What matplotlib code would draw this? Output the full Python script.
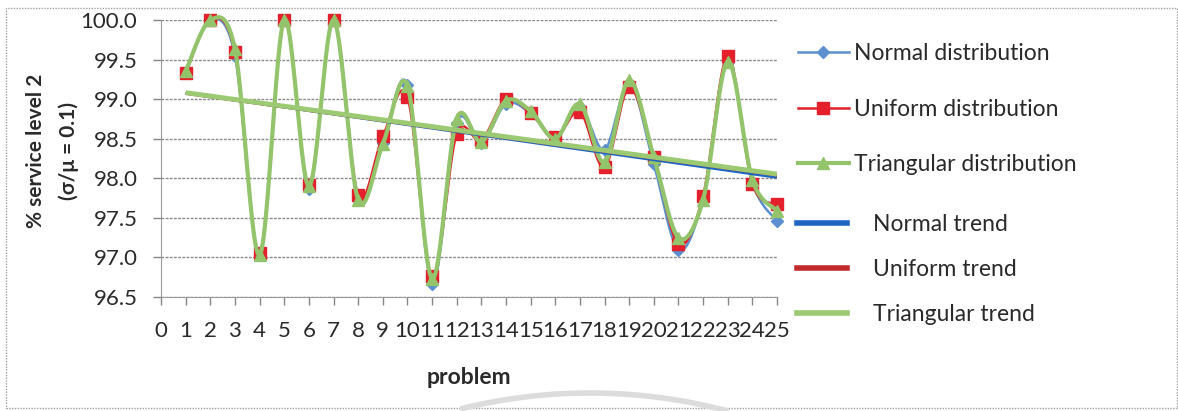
import numpy as np
import matplotlib.pyplot as plt
from matplotlib.lines import Line2D
from matplotlib.patches import Rectangle, Arc
from matplotlib.transforms import IdentityTransform

plt.rcParams['font.family'] = ['Lato', 'DejaVu Sans']

# service level 2 per problem, one list per demand distribution
problems = list(range(1, 26))
normal = [99.33, 100.0, 99.55, 97.05, 100.0, 97.86, 100.0, 97.72, 98.45, 99.18,
          96.66, 98.70, 98.45, 98.94, 98.82, 98.50, 98.90, 98.36, 99.20, 98.18,
          97.10, 97.75, 99.47, 97.95, 97.46]
uniform = [99.33, 100.0, 99.59, 97.05, 100.0, 97.92, 100.0, 97.79, 98.53, 99.03,
           96.76, 98.56, 98.48, 99.00, 98.82, 98.52, 98.84, 98.14, 99.15, 98.27,
           97.17, 97.78, 99.54, 97.93, 97.67]
triangular = [99.35, 100.0, 99.63, 97.03, 100.0, 97.90, 100.0, 97.73, 98.43, 99.17,
              96.73, 98.75, 98.46, 98.98, 98.85, 98.50, 98.94, 98.20, 99.24, 98.27,
              97.25, 97.73, 99.47, 97.98, 97.59]
xticks = list(range(0, 26))
yticks = [96.5, 97.0, 97.5, 98.0, 98.5, 99.0, 99.5, 100.0]

c_normal = '#5b8fcf'
c_uniform = '#e3202b'
c_tri = '#93c46b'
c_normal_tr = '#1f66c4'
c_uniform_tr = '#c12a2c'
c_tri_tr = '#9cca72'

STEPS = 24


def smooth(x, y):
    # excel style smoothed line: bezier segments with catmull-rom tangents
    x = np.asarray(x, float)
    y = np.asarray(y, float)
    n = len(x)
    xs, ys = [x[0]], [y[0]]
    t = np.linspace(0, 1, STEPS + 1)[1:]
    for i in range(n - 1):
        a = max(i - 1, 0)
        b = min(i + 2, n - 1)
        c1x = x[i] + (x[i + 1] - x[a]) / 6
        c1y = y[i] + (y[i + 1] - y[a]) / 6
        c2x = x[i + 1] - (x[b] - x[i]) / 6
        c2y = y[i + 1] - (y[b] - y[i]) / 6
        bx = (1 - t)**3 * x[i] + 3 * (1 - t)**2 * t * c1x + 3 * (1 - t) * t**2 * c2x + t**3 * x[i + 1]
        by = (1 - t)**3 * y[i] + 3 * (1 - t)**2 * t * c1y + 3 * (1 - t) * t**2 * c2y + t**3 * y[i + 1]
        xs.extend(bx)
        ys.extend(by)
    return np.array(xs), np.array(ys)


fig = plt.figure(figsize=(11.78, 4.11), dpi=100)
ax = fig.add_axes([0.1367, 0.2774, 0.5229, 0.6740])

marks = list(range(0, (len(problems) - 1) * STEPS + 1, STEPS))
series = [
    (normal, c_normal, 'D', 6.5, 1.8, 'Normal distribution'),
    (uniform, c_uniform, 's', 9, 1.8, 'Uniform distribution'),
    (triangular, c_tri, '^', 8.5, 3.0, 'Triangular distribution'),
]
handles1 = []
for vals, col, mk, ms, lw, lab in series:
    sx, sy = smooth(problems, vals)
    ln, = ax.plot(sx, sy, color=col, lw=lw, marker=mk, ms=ms, markevery=marks,
                  mec=col, mfc=col, clip_on=False, label=lab)
    handles1.append(ln)

# linear trend lines
xp = np.array(problems, float)
handles2 = []
for vals, col, lw, lab in [(normal, c_normal_tr, 2.0, 'Normal trend'),
                           (uniform, c_uniform_tr, 2.0, 'Uniform trend'),
                           (triangular, c_tri_tr, 3.5, 'Triangular trend')]:
    k, d = np.polyfit(xp, vals, 1)
    ax.plot(xp, k * xp + d, color=col, lw=lw, solid_capstyle='butt')
    handles2.append(Line2D([], [], color=col, lw=4, label=lab))

ax.set_xlim(0, 25)
ax.set_ylim(96.5, 100)
ax.set_xticks(xticks)
ax.set_yticks(yticks)
ax.set_yticklabels(['%.1f' % v for v in yticks])
ax.tick_params(axis='both', labelsize=16, colors='#868686', labelcolor='#2a2a2a',
               length=6, width=1)
ax.tick_params(axis='x', pad=11)
ax.tick_params(axis='y', pad=11)
ax.grid(axis='y', color='#8a8a8a', lw=1, ls=(0, (2, 1)))
ax.set_axisbelow(True)
for s in ['top', 'right']:
    ax.spines[s].set_visible(False)
for s in ['left', 'bottom']:
    ax.spines[s].set_color('#9a9a9a')

ax.set_xlabel('problem', fontsize=16.5, fontweight='bold', color='#2a2a2a', labelpad=19)
ax.set_ylabel('% service level 2\n(σ/μ = 0.1)', fontsize=15, fontweight='bold',
              color='#2a2a2a', linespacing=1.75)
ax.yaxis.set_label_coords(-0.133, 0.527)

leg1 = fig.legend(handles=handles1, loc='upper left', bbox_to_anchor=(0.660, 0.945),
                  frameon=False, fontsize=16.5, handlelength=2.2, handletextpad=0.22,
                  labelspacing=1.5, numpoints=1, labelcolor='#2a2a2a')
leg2 = fig.legend(handles=handles2, loc='upper left', bbox_to_anchor=(0.659, 0.530),
                  frameon=False, fontsize=16.5, handlelength=2.2, handletextpad=1.1,
                  labelspacing=1.05, labelcolor='#2a2a2a')

# chart area border
fig.add_artist(Rectangle((0.0051, 0.0073), 0.994, 0.973, transform=fig.transFigure,
                         fill=False, ec='#a0a0a0', lw=1, ls=(0, (1, 1))))
# faint arc of the page logo below the chart
fig.add_artist(Arc((590, -518), 1072, 1072, theta1=75, theta2=104,
                   transform=IdentityTransform(), color='#dcdcdc', lw=4))

fig.savefig('out.png', dpi=100)
